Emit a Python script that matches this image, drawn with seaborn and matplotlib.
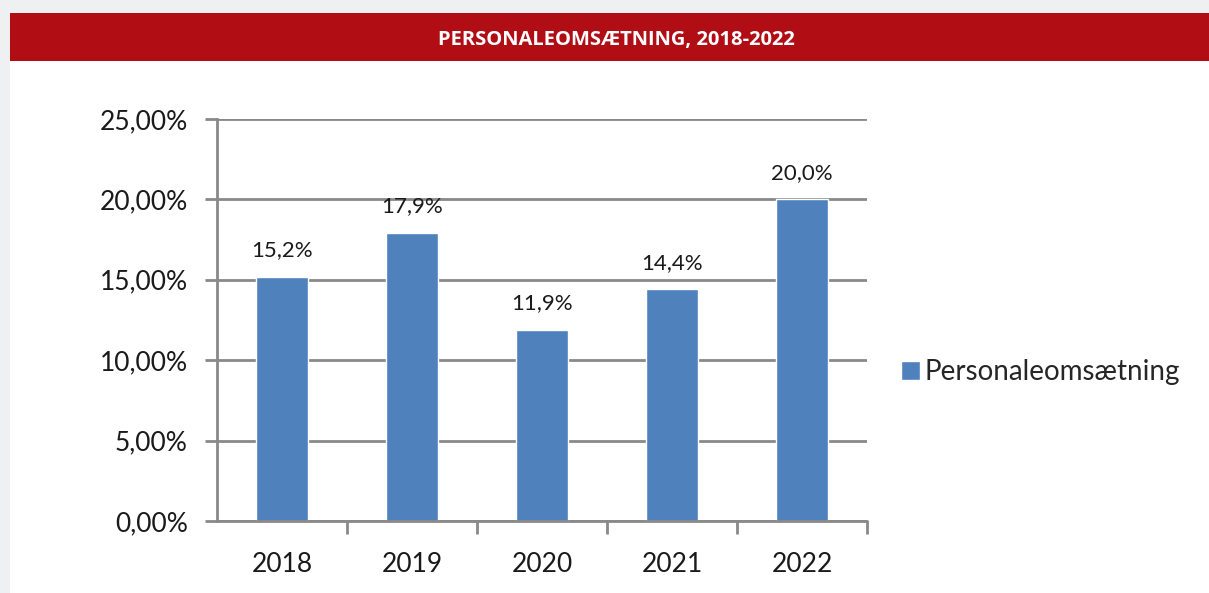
import matplotlib
matplotlib.use("Agg")
import matplotlib.pyplot as plt
import seaborn as sns
import pandas as pd
from matplotlib.patches import Rectangle
from matplotlib.ticker import FuncFormatter, FixedLocator

years = ["2018", "2019", "2020", "2021", "2022"]
turnover = [15.2, 17.9, 11.9, 14.4, 20.0]
series_name = "Personaleomsætning"
title = "PERSONALEOMSÆTNING, 2018-2022"

BAR = "#4f81bd"
GRID = "#898989"
RED = "#b00e14"

sns.set_style("white")
plt.rcParams["font.family"] = ["Lato", "DejaVu Sans"]

df = pd.DataFrame({"year": years, "value": turnover, "series": series_name})

fig = plt.figure(figsize=(12.09, 5.93), dpi=100)
fig.patch.set_facecolor("#eff0f2")
W, H = 1209, 593
# white panel + red title banner (behind the axes)
fig.patches.append(Rectangle((10 / W, 0), 1 - 10 / W, 1 - 13 / H, transform=fig.transFigure,
                             facecolor="white", edgecolor="none", zorder=-10))
fig.patches.append(Rectangle((10 / W, 1 - 61 / H), 1 - 10 / W, 48 / H, transform=fig.transFigure,
                             facecolor=RED, edgecolor="none", zorder=-9))
fig.text(616 / W, 1 - 40 / H, title, color="white", fontsize=14.5, fontweight="bold",
         ha="center", va="center", family=["Open Sans", "DejaVu Sans"])

ax = fig.add_axes([217 / W, 1 - 521 / H, 650 / W, 402 / H])
ax.set_facecolor("none")
sns.barplot(data=df, x="year", y="value", hue="series", palette=[BAR], width=0.4,
            ax=ax, saturation=1, zorder=3)

ax.set_ylim(0, 25)
ax.set_xlim(-0.5, len(years) - 0.5)
ax.set_yticks([0, 5, 10, 15, 20, 25])
ax.yaxis.set_major_formatter(FuncFormatter(lambda v, p: f"{v:.2f}%".replace(".", ",")))
ax.yaxis.grid(True, color=GRID, linewidth=2, zorder=0)
ax.set_axisbelow(True)
for s in ["top", "right", "bottom"]:
    ax.spines[s].set_visible(False)
ax.spines["left"].set_color(GRID)
ax.spines["left"].set_linewidth(2)
ax.tick_params(axis="y", which="major", length=9, width=2, color=GRID, labelsize=19,
               pad=12, left=True, labelcolor="#1a1a1a")
# x ticks between categories, labels centered
ax.set_xticks(range(len(years)))
ax.set_xticklabels(years)
ax.tick_params(axis="x", which="major", length=0, labelsize=19, pad=22, labelcolor="#1a1a1a")
ax.xaxis.set_minor_locator(FixedLocator([i + 0.5 for i in range(len(years))]))
ax.tick_params(axis="x", which="minor", length=9, width=2, color=GRID, bottom=True)
ax.axhline(0, color=GRID, linewidth=2, zorder=4, clip_on=False)
ax.set_xlabel("")
ax.set_ylabel("")

for c in ax.containers:
    ax.bar_label(c, labels=[f"{v:.1f}%".replace(".", ",") for v in turnover],
                 padding=12, fontsize=16, color="#1a1a1a")

leg = ax.legend(loc="center left", bbox_to_anchor=(1.052, 0.37), frameon=False,
                fontsize=20, handlelength=0.7, handleheight=0.7, handletextpad=0.15,
                borderaxespad=0, borderpad=0)

fig.savefig("out.png", dpi=100, facecolor=fig.get_facecolor())
